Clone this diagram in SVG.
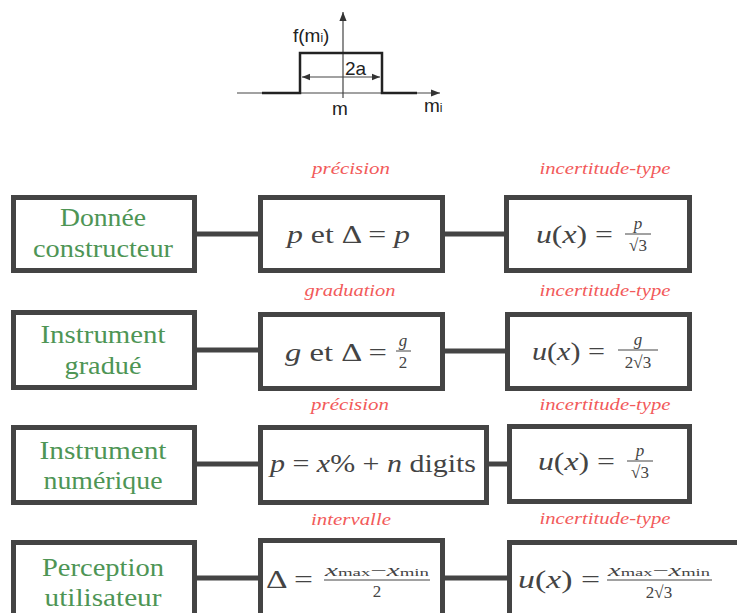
<svg xmlns="http://www.w3.org/2000/svg" width="737" height="613" viewBox="0 0 737 613">
<style>
.box{fill:#fff;stroke:#444;stroke-width:5}
.conn{stroke:#444;stroke-width:5;fill:none}
.serif{font-family:"Liberation Serif","DejaVu Serif","Noto Serif","Times New Roman",Times,serif}
.green{font-size:25px;fill:#4e9555;text-anchor:middle}
.red{font-style:italic;font-size:17px;fill:#f25a5a;text-anchor:middle}
.math{font-size:25px;fill:#444}
.sm{font-size:17px;fill:#444;text-anchor:middle}
.i{font-style:italic}
.fig{font-family:"Liberation Sans",Arial,sans-serif;font-size:19px;fill:#222}
.fl{stroke:#444;stroke-width:1.2}
.fr{stroke:#444;stroke-width:1}
</style>
<defs>
<marker id="ah" viewBox="0 0 10 10" refX="10" refY="5" markerWidth="8" markerHeight="8" markerUnits="userSpaceOnUse" orient="auto-start-reverse">
<path d="M0,1 L10,5 L0,9 z" fill="#333"/>
</marker>
<marker id="ax" viewBox="0 0 10 10" refX="10" refY="5" markerWidth="9" markerHeight="9" markerUnits="userSpaceOnUse" orient="auto">
<path d="M0,1 L10,5 L0,9 z" fill="#333"/>
</marker>
</defs>

<g id="figure">
<line class="fl" x1="237" y1="93" x2="440" y2="93" marker-end="url(#ax)"/>
<line class="fl" x1="343" y1="98" x2="343" y2="12" marker-end="url(#ax)"/>
<polyline points="262,93 300,93 300,53 382,53 382,93 417,93" fill="none" stroke="#222" stroke-width="2.5"/>
<line class="fl" x1="302" y1="77" x2="380" y2="77" marker-start="url(#ah)" marker-end="url(#ah)"/>
<text class="fig" x="345" y="75" font-size="20">2a</text>
<text class="fig" x="293" y="42">f(m<tspan font-size="12">i</tspan>)</text>
<text class="fig" x="332" y="115">m</text>
<text class="fig" x="424" y="112">m<tspan font-size="12">i</tspan></text>
</g>

<g id="connectors">
<line class="conn" x1="197" y1="234" x2="258" y2="234"/>
<line class="conn" x1="445" y1="234" x2="504" y2="234"/>
<line class="conn" x1="197" y1="350" x2="258" y2="350"/>
<line class="conn" x1="445" y1="351" x2="505" y2="351"/>
<line class="conn" x1="197" y1="464" x2="258" y2="464"/>
<line class="conn" x1="489" y1="464" x2="507" y2="464"/>
<line class="conn" x1="197" y1="578" x2="258" y2="578"/>
<line class="conn" x1="445" y1="578" x2="507" y2="578"/>
</g>

<g id="labels" class="serif">
<text class="red" x="351" y="174" textLength="78" lengthAdjust="spacingAndGlyphs">précision</text>
<text class="red" x="605" y="174" textLength="131" lengthAdjust="spacingAndGlyphs">incertitude-type</text>
<text class="red" x="350" y="296" textLength="91" lengthAdjust="spacingAndGlyphs">graduation</text>
<text class="red" x="605" y="296" textLength="131" lengthAdjust="spacingAndGlyphs">incertitude-type</text>
<text class="red" x="350" y="410" textLength="78" lengthAdjust="spacingAndGlyphs">précision</text>
<text class="red" x="605" y="410" textLength="131" lengthAdjust="spacingAndGlyphs">incertitude-type</text>
<text class="red" x="351" y="525" textLength="80" lengthAdjust="spacingAndGlyphs">intervalle</text>
<text class="red" x="605" y="524" textLength="131" lengthAdjust="spacingAndGlyphs">incertitude-type</text>
</g>

<!-- Row 1 -->
<g id="donnee-constructeur" class="serif">
<rect class="box" x="13.5" y="197.5" width="181" height="73"/>
<text class="green" x="103" y="226" textLength="86" lengthAdjust="spacingAndGlyphs">Donnée</text>
<text class="green" x="103" y="257" textLength="140" lengthAdjust="spacingAndGlyphs">constructeur</text>
</g>
<g id="precision-1" class="serif">
<rect class="box" x="260.5" y="197.5" width="182" height="73"/>
<text class="math" x="287" y="243" textLength="123" lengthAdjust="spacingAndGlyphs"><tspan class="i">p</tspan> et Δ = <tspan class="i">p</tspan></text>
</g>
<g id="incertitude-1" class="serif">
<rect class="box" x="506.5" y="197.5" width="183" height="73"/>
<text class="math" x="536" y="243" textLength="77" lengthAdjust="spacingAndGlyphs"><tspan class="i">u</tspan>(<tspan class="i">x</tspan>) =</text>
<text class="sm i" x="638" y="229">p</text>
<line class="fr" x1="625" y1="234" x2="651" y2="234"/>
<text class="sm" x="638" y="251">√3</text>
</g>

<!-- Row 2 -->
<g id="instrument-gradue" class="serif">
<rect class="box" x="13.5" y="312.5" width="181" height="75"/>
<text class="green" x="103" y="343" textLength="125" lengthAdjust="spacingAndGlyphs">Instrument</text>
<text class="green" x="103" y="374" textLength="77" lengthAdjust="spacingAndGlyphs">gradué</text>
</g>
<g id="graduation" class="serif">
<rect class="box" x="260.5" y="314.5" width="182" height="74"/>
<text class="math" x="285" y="361" textLength="102" lengthAdjust="spacingAndGlyphs"><tspan class="i">g</tspan> et Δ =</text>
<text class="sm i" x="403" y="346">g</text>
<line class="fr" x1="396" y1="351" x2="411" y2="351"/>
<text class="sm" x="403" y="368">2</text>
</g>
<g id="incertitude-2" class="serif">
<rect class="box" x="507.5" y="314.5" width="182" height="74"/>
<text class="math" x="532" y="360" textLength="73" lengthAdjust="spacingAndGlyphs"><tspan class="i">u</tspan>(<tspan class="i">x</tspan>) =</text>
<text class="sm i" x="638" y="345">g</text>
<line class="fr" x1="618" y1="350" x2="658" y2="350"/>
<text class="sm" x="638" y="368">2√3</text>
</g>

<!-- Row 3 -->
<g id="instrument-numerique" class="serif">
<rect class="box" x="13.5" y="427.5" width="181" height="75"/>
<text class="green" x="103" y="459" textLength="127" lengthAdjust="spacingAndGlyphs">Instrument</text>
<text class="green" x="103" y="489" textLength="119" lengthAdjust="spacingAndGlyphs">numérique</text>
</g>
<g id="precision-3" class="serif">
<rect class="box" x="260.5" y="427.5" width="226" height="75"/>
<text class="math" x="270" y="472" textLength="206" lengthAdjust="spacingAndGlyphs"><tspan class="i">p</tspan> = <tspan class="i">x</tspan>% + <tspan class="i">n</tspan> digits</text>
</g>
<g id="incertitude-3" class="serif">
<rect class="box" x="509.5" y="426.5" width="180" height="75"/>
<text class="math" x="538" y="470" textLength="77" lengthAdjust="spacingAndGlyphs"><tspan class="i">u</tspan>(<tspan class="i">x</tspan>) =</text>
<text class="sm i" x="640" y="456">p</text>
<line class="fr" x1="627" y1="461" x2="653" y2="461"/>
<text class="sm" x="640" y="478">√3</text>
</g>

<!-- Row 4 -->
<g id="perception-utilisateur" class="serif">
<rect class="box" x="13.5" y="542.5" width="181" height="80"/>
<text class="green" x="103" y="576" textLength="122" lengthAdjust="spacingAndGlyphs">Perception</text>
<text class="green" x="103" y="606" textLength="117" lengthAdjust="spacingAndGlyphs">utilisateur</text>
</g>
<g id="intervalle" class="serif">
<rect class="box" x="260.5" y="540.5" width="182" height="80"/>
<text class="math" x="266" y="588" textLength="47" lengthAdjust="spacingAndGlyphs">Δ =</text>
<text class="sm" x="377" y="576" font-size="15" textLength="104" lengthAdjust="spacingAndGlyphs"><tspan class="i">x</tspan><tspan font-size="11">max</tspan>−<tspan class="i">x</tspan><tspan font-size="11">min</tspan></text>
<line class="fr" x1="324" y1="580" x2="430" y2="580"/>
<text class="sm" x="377" y="597">2</text>
</g>
<g id="incertitude-4" class="serif">
<rect class="box" x="509.5" y="542.5" width="250" height="80"/>
<text class="math" x="518" y="588" textLength="82" lengthAdjust="spacingAndGlyphs"><tspan class="i">u</tspan>(<tspan class="i">x</tspan>) =</text>
<text class="sm" x="659" y="576" font-size="15" textLength="102" lengthAdjust="spacingAndGlyphs"><tspan class="i">x</tspan><tspan font-size="11">max</tspan>−<tspan class="i">x</tspan><tspan font-size="11">min</tspan></text>
<line class="fr" x1="607" y1="580" x2="712" y2="580"/>
<text class="sm" x="659" y="598">2√3</text>
</g>
</svg>
